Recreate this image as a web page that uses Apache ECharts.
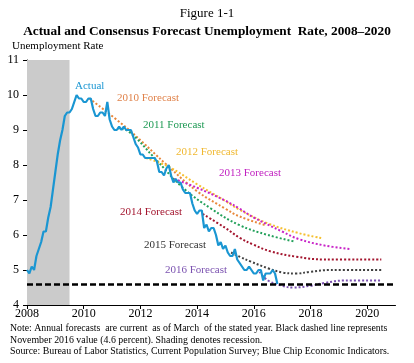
<!DOCTYPE html>
<html>
<head>
<meta charset="utf-8">
<script src="https://cdn.jsdelivr.net/npm/echarts@6/dist/echarts.min.js"></script>
<style>
html,body{margin:0;padding:0;background:#fff;}
#c{width:414px;height:363px;}
</style>
</head>
<body>
<div id="c"></div>
<script>
// ---- data ----
var startYear = 2008;
var actual = [
  5.0,4.9,5.1,5.0,5.4,5.6,5.8,6.1,6.1,6.5,6.8,7.3,
  7.8,8.3,8.7,9.0,9.4,9.5,9.5,9.6,9.8,10.0,9.9,9.9,
  9.8,9.8,9.9,9.9,9.6,9.4,9.4,9.5,9.5,9.4,9.8,9.3,
  9.1,9.0,9.0,9.1,9.0,9.1,9.0,9.0,9.0,8.8,8.6,8.5,
  8.3,8.3,8.2,8.2,8.2,8.2,8.2,8.1,7.8,7.8,7.7,7.9,
  8.0,7.7,7.5,7.6,7.5,7.5,7.3,7.2,7.2,7.2,6.9,6.7,
  6.6,6.7,6.7,6.2,6.3,6.1,6.2,6.2,6.0,5.7,5.8,5.6,
  5.7,5.5,5.4,5.4,5.6,5.3,5.2,5.1,5.0,5.0,5.1,5.0,
  4.9,4.9,5.0,5.0,4.7,4.9,4.9,4.9,5.0,4.9,4.6
];
var f2010 = [[2010.2,9.9],[2011.6,9.0],[2013.0,7.95],[2014.0,7.25],[2015.0,6.75],[2015.5,6.53],[2016.45,6.27]];
var f2011 = [[2011.2,9.05],[2011.6,8.95],[2012.5,8.2],[2013.5,7.35],[2014.5,6.75],[2015.5,6.28],[2016.5,6.0],[2017.45,5.81]];
var f2012 = [[2012.2,8.2],[2013.0,7.95],[2014.0,7.45],[2015.0,6.97],[2015.5,6.72],[2016.5,6.33],[2017.6,6.05],[2018.4,5.91]];
var f2013 = [[2013.2,7.6],[2014.0,7.35],[2015.0,6.98],[2015.5,6.75],[2016.0,6.5],[2017.0,6.1],[2017.6,5.88],[2018.5,5.7],[2019.4,5.6]];
var f2014 = [[2014.2,6.6],[2015.0,6.2],[2015.5,5.92],[2016.0,5.72],[2016.6,5.53],[2017.5,5.38],[2018.5,5.3],[2020.5,5.3]];
var f2015 = [[2015.2,5.5],[2015.5,5.38],[2015.9,5.24],[2016.5,5.05],[2017.0,4.93],[2017.5,4.9],[2018.0,4.95],[2018.7,5.0],[2020.5,5.0]];
var f2016 = [[2016.2,4.95],[2016.5,4.7],[2017.0,4.55],[2017.4,4.5],[2018.0,4.55],[2018.5,4.63],[2019.2,4.7],[2020.5,4.7]];
var xTicks = [2008,2010,2012,2014,2016,2018,2020];
var yTicks = [4,5,6,7,8,9,10,11];
var recession = [2008, 2009.5];
var nov2016 = 4.6;

// ---- chart ----
var SERIF = "'Liberation Serif','Times New Roman',serif";
var actualData = actual.map(function(v,i){ return [startYear + i/12, v]; });

function fc(name, data, color){
  return {
    name: name, type: 'line', data: data, smooth: 0.4, symbol: 'none',
    lineStyle: {color: color, width: 2, type: [2,2]}, z: 2
  };
}

var chart = echarts.init(document.getElementById('c'), null, {renderer:'canvas'});
var option = {
  animation: false,
  backgroundColor: '#ffffff',
  grid: {left: 27, right: 18.5, top: 60, bottom: 58},
  xAxis: {
    type: 'value', min: 2008, max: 2021, interval: 2,
    axisLine: {lineStyle: {color: '#000', width: 1}},
    axisTick: {show: true, length: 4, inside: false, customValues: xTicks, lineStyle: {color:'#000'}},
    axisLabel: {customValues: xTicks, margin: 3, color: '#000', fontFamily: SERIF, fontSize: 12,
      formatter: function(v){ return String(v); }},
    splitLine: {show: false}
  },
  yAxis: {
    type: 'value', min: 4, max: 11, interval: 1,
    axisLine: {show: true, lineStyle: {color: '#000', width: 1}},
    axisTick: {show: true, length: 4, lineStyle: {color:'#000'}},
    axisLabel: {margin: 8, color: '#000', fontFamily: SERIF, fontSize: 12},
    splitLine: {show: false}
  },
  series: [
    {
      name: 'Actual', type: 'line', data: actualData, symbol: 'none', z: 3,
      lineStyle: {color: '#1a96d2', width: 2.2},
      markArea: {silent: true, itemStyle: {color: '#cbcbcb'}, data: [[{xAxis: recession[0]}, {xAxis: recession[1]}]]},
      markLine: {
        silent: true, symbol: 'none', label: {show: false},
        lineStyle: {color: '#000', width: 2.5, type: [6,3]},
        data: [[{coord: [2008, nov2016]}, {coord: [2021, nov2016]}]]
      }
    },
    fc('2010 Forecast', f2010, '#e8873a'),
    fc('2011 Forecast', f2011, '#22a05a'),
    fc('2012 Forecast', f2012, '#f5c030'),
    fc('2013 Forecast', f2013, '#c825c8'),
    fc('2014 Forecast', f2014, '#a3152e'),
    fc('2015 Forecast', f2015, '#404040'),
    fc('2016 Forecast', f2016, '#7b52b0')
  ],
  graphic: [
    {type:'text', left:'center', top:7, style:{text:'Figure 1-1', font:"13px "+SERIF, fill:'#000'}},
    {type:'text', left:'center', top:25, style:{text:'Actual and Consensus Forecast Unemployment  Rate, 2008\u20132020', font:"bold 13.3px "+SERIF, fill:'#000'}},
    {type:'text', x:12, y:41, style:{text:'Unemployment Rate', font:"11px "+SERIF, fill:'#000'}},
    {type:'text', x:75, y:81, style:{text:'Actual', font:"11px "+SERIF, fill:'#1a96d2'}},
    {type:'text', x:117, y:93, style:{text:'2010 Forecast', font:"11px "+SERIF, fill:'#e0824a'}},
    {type:'text', x:143, y:120, style:{text:'2011 Forecast', font:"11px "+SERIF, fill:'#1f9a55'}},
    {type:'text', x:176, y:147, style:{text:'2012 Forecast', font:"11px "+SERIF, fill:'#f0b830'}},
    {type:'text', x:219, y:168, style:{text:'2013 Forecast', font:"11px "+SERIF, fill:'#c020c0'}},
    {type:'text', x:120, y:207, style:{text:'2014 Forecast', font:"11px "+SERIF, fill:'#a3152e'}},
    {type:'text', x:144, y:240, style:{text:'2015 Forecast', font:"11px "+SERIF, fill:'#333333'}},
    {type:'text', x:165, y:265, style:{text:'2016 Forecast', font:"11px "+SERIF, fill:'#7b52b0'}},
    {type:'text', x:10, y:323, style:{text:'Note: Annual forecasts  are current  as of March  of the stated year. Black dashed line represents', font:"9.8px "+SERIF, fill:'#000'}},
    {type:'text', x:10, y:335, style:{text:'November 2016 value (4.6 percent). Shading denotes recession.', font:"9.9px "+SERIF, fill:'#000'}},
    {type:'text', x:10, y:346, style:{text:'Source: Bureau of Labor Statistics, Current Population Survey; Blue Chip Economic Indicators.', font:"9.9px "+SERIF, fill:'#000'}}
  ]
};
chart.setOption(option);
</script>
</body>
</html>
